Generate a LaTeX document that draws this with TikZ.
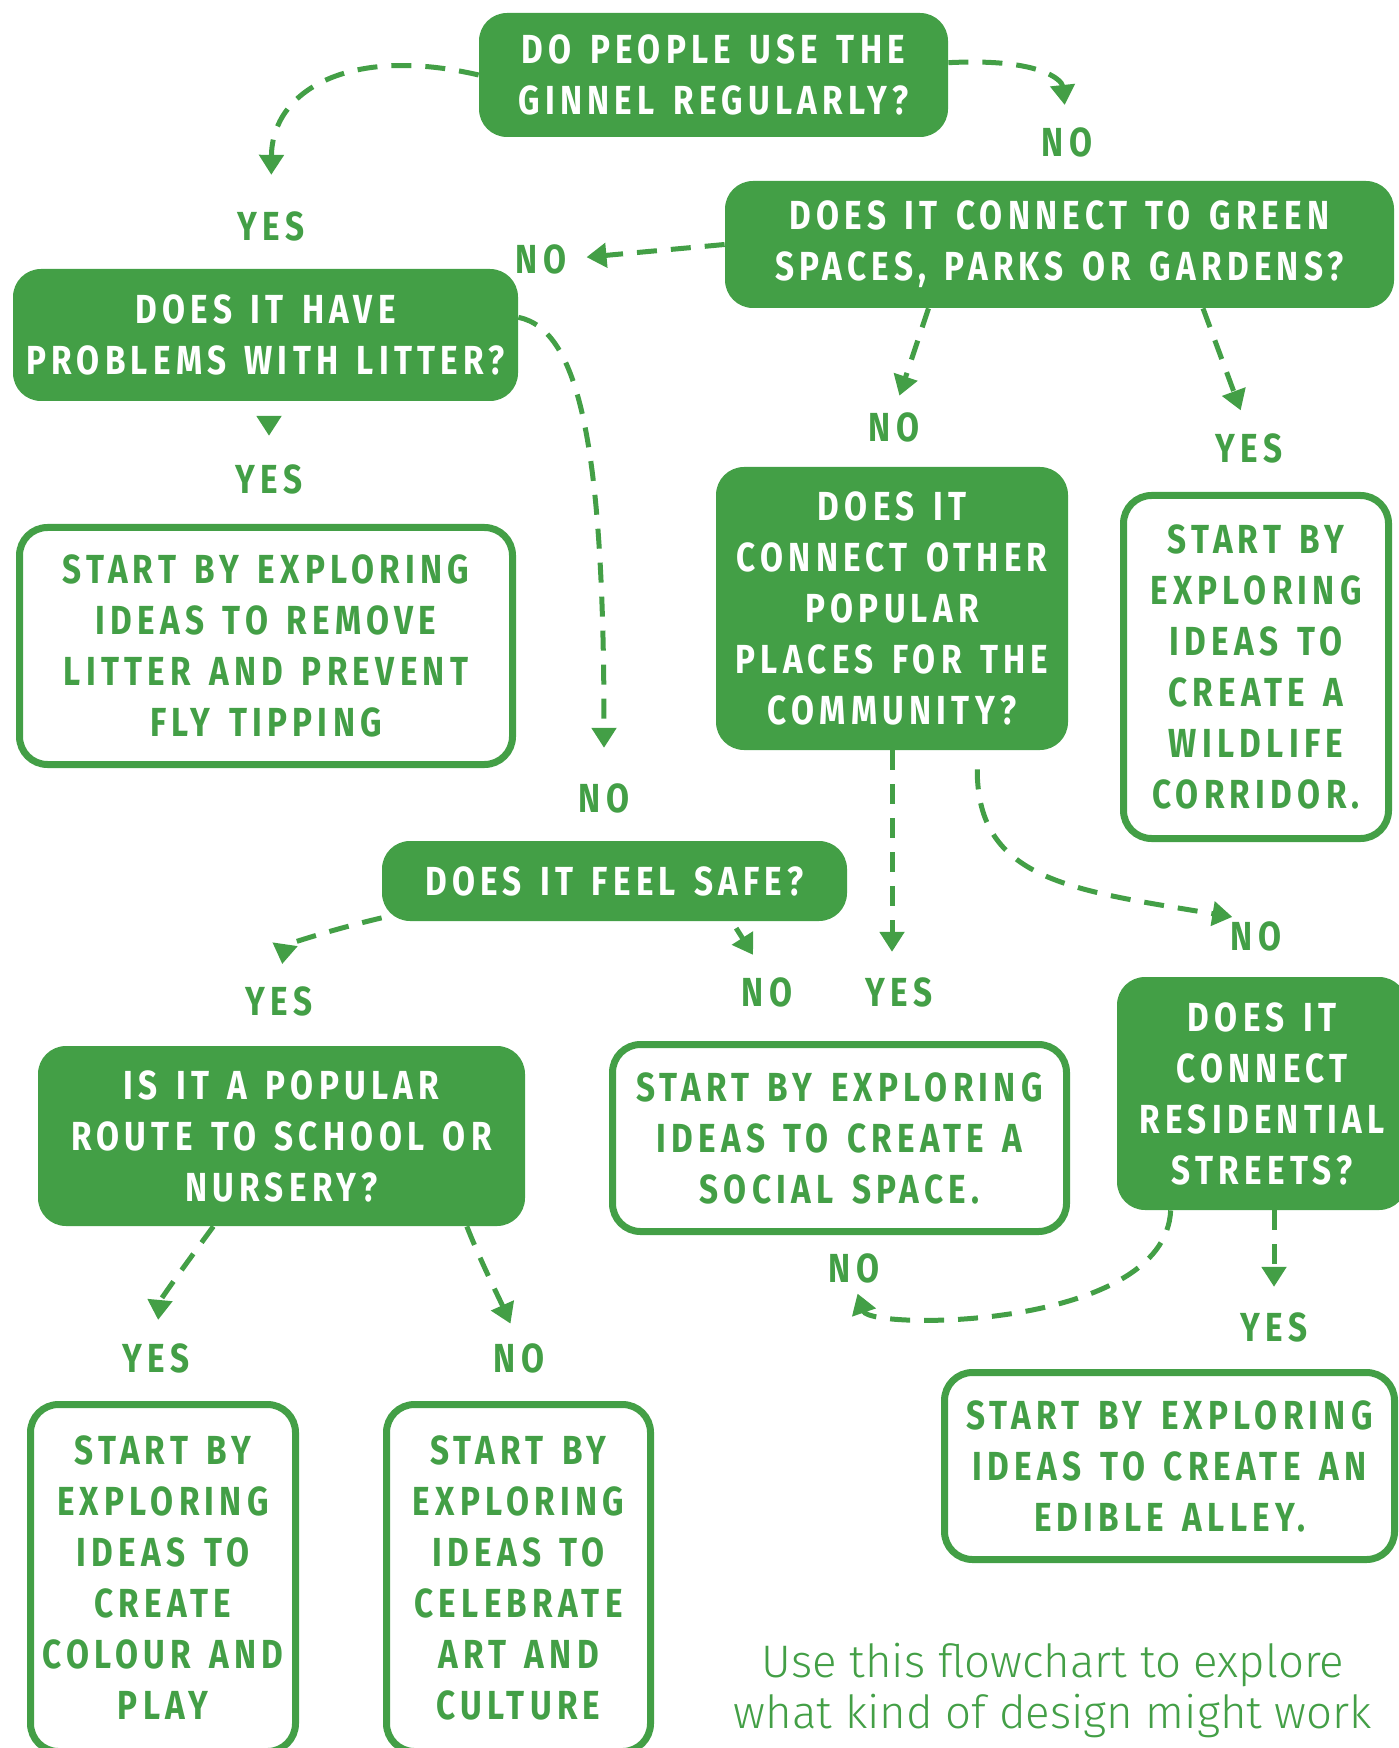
\documentclass[tikz,border=0pt]{standalone}
\usepackage{fontspec}
\usetikzlibrary{arrows.meta}
\newfontfamily\capsfont{Fira Sans}[FakeStretch=0.82,LetterSpace=13,WordSpace=1.4]
\newfontfamily\notefont{Fira Sans Light}
\definecolor{ginnel}{RGB}{67,159,70}
\newcommand{\capstext}{\capsfont\bfseries\fontsize{20.3}{25.5}\selectfont}

\begin{document}
\begin{tikzpicture}[x=0.5pt,y=-0.5pt,
  qbox/.style={fill=ginnel,rounded corners=14pt,text=white,align=center,font=\capstext,inner sep=0pt},
  abox/.style={draw=ginnel,line width=3.5pt,rounded corners=14pt,text=ginnel,align=center,font=\capstext,inner sep=0pt},
  wh/.style 2 args={minimum width=#1*0.5pt,minimum height=#2*0.5pt},
  lbl/.style={text=ginnel,font=\capstext,inner sep=0pt},
  flow/.style={draw=ginnel,line width=2.5pt,dash pattern=on 10pt off 7pt,-{Triangle[width=12pt,length=10pt]}}]
\useasboundingbox (0,0) rectangle (1398,1748);

% questions
\node[qbox,wh={469}{124}] (q1) at (713.5,75) {DO PEOPLE USE THE\\GINNEL REGULARLY?};
\node[qbox,wh={669}{127}] (q2) at (1059.5,244.5) {DOES IT CONNECT TO GREEN\\SPACES, PARKS OR GARDENS?};
\node[qbox,wh={505}{132}] (q3) at (265.5,335) {DOES IT HAVE\\PROBLEMS WITH LITTER?};
\node[qbox,wh={352}{283}] (q4) at (892,608.5) {DOES IT\\CONNECT OTHER\\POPULAR\\PLACES FOR THE\\COMMUNITY?};
\node[qbox,wh={465}{80}] (q5) at (614.5,881) {DOES IT FEEL SAFE?};
\node[qbox,wh={487}{180}] (q6) at (281.5,1136) {IS IT A POPULAR\\ROUTE TO SCHOOL OR\\NURSERY?};
\node[qbox,wh={290}{233}] (q7) at (1262,1093.5) {DOES IT\\CONNECT\\RESIDENTIAL\\STREETS?};

% ideas
\node[abox,wh={493}{237}] (r1) at (266,646) {START BY EXPLORING\\IDEAS TO REMOVE\\LITTER AND PREVENT\\FLY TIPPING};
\node[abox,wh={265}{343}] (r2) at (1256,667) {START BY\\EXPLORING\\IDEAS TO\\CREATE A\\WILDLIFE\\CORRIDOR.};
\node[abox,wh={454}{187}] (r3) at (839.5,1138) {START BY EXPLORING\\IDEAS TO CREATE A\\SOCIAL SPACE.};
\node[abox,wh={265}{347}] (r4) at (163,1578) {START BY\\EXPLORING\\IDEAS TO\\CREATE\\COLOUR AND\\PLAY};
\node[abox,wh={264}{347}] (r5) at (518.5,1578) {START BY\\EXPLORING\\IDEAS TO\\CELEBRATE\\ART AND\\CULTURE};
\node[abox,wh={450}{187}] (r6) at (1169.5,1466) {START BY EXPLORING\\IDEAS TO CREATE AN\\EDIBLE ALLEY.};

% answers
\node[lbl] (noA) at (1067,142) {NO};
\node[lbl] (yesA) at (271,226) {YES};
\node[lbl] (noB) at (541,259) {NO};
\node[lbl] (yesB) at (269,479) {YES};
\node[lbl] (noC) at (604,798) {NO};
\node[lbl] (noD) at (894,427) {NO};
\node[lbl] (yesC) at (1249,448) {YES};
\node[lbl] (yesD) at (899,992) {YES};
\node[lbl] (noE) at (1256,936) {NO};
\node[lbl] (yesE) at (279,1001) {YES};
\node[lbl] (noF) at (767,992) {NO};
\node[lbl] (yesF) at (156,1358) {YES};
\node[lbl] (noG) at (519,1358) {NO};
\node[lbl] (yesG) at (1274,1327) {YES};
\node[lbl] (noH) at (854,1268) {NO};

\draw[flow,shorten >=11pt] (q1.3) .. controls (1040,58) and (1062,80) .. (noA.north);
\draw[flow,shorten >=18pt] (q1.west) .. controls (350,45) and (272,90) .. (yesA.north);
\draw[flow,shorten >=10pt] (q2.west) -- (noB.east);
\draw[flow,shorten <=8.5pt,shorten >=14pt] (yesB.north |- q3.south) -- (yesB.north);
\draw[flow,shorten >=17.5pt] (q3.4) .. controls (580,330) and (604,450) .. (noC.north);
\draw[flow,shorten >=8.5pt] (q2.206) -- (noD.north);
\draw[flow,shorten >=12pt] (q2.336) -- (yesC.north);
\draw[flow,shorten >=12.5pt] (q4.south) -- (q4.south |- yesD.north);
\draw[flow,shorten <=9.5pt,shorten >=12pt] (q4.301) .. controls (977,880) and (1070,890) .. (noE.north);
\draw[flow,shorten >=11pt] (q5.189) .. controls (330,930) and (285,945) .. (yesE.north);
\draw[flow,shorten <=4pt,shorten >=13pt] (q5.341) -- (noF.north);
\draw[flow,shorten >=11.5pt] (q6.233) .. controls (185,1265) and (160,1300) .. (yesF.north);
\draw[flow,shorten >=10.5pt] (q6.334) .. controls (480,1260) and (500,1300) .. (noG.north);
\draw[flow,shorten >=12.5pt] (yesG.north |- q7.south) -- (yesG.north);
\draw[flow,shorten >=5.5pt] (q7.232) .. controls (1165,1330) and (870,1330) .. (noH.south);

\node[text=ginnel,font=\notefont\fontsize{22.8}{25.5}\selectfont,align=center,inner sep=0pt] (note) at (1053,1690) {Use this flowchart to explore\\what kind of design might work};
\end{tikzpicture}
\end{document}
